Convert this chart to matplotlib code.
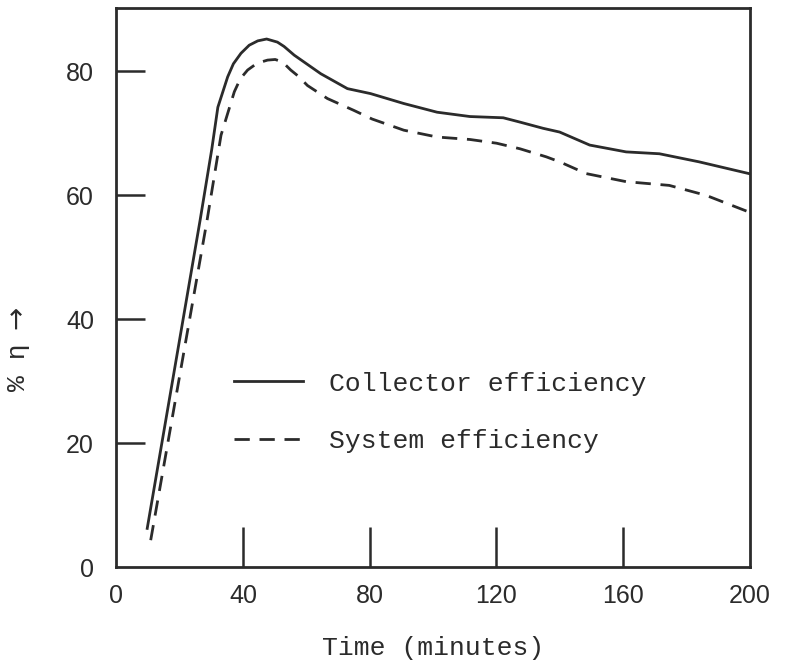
import matplotlib
matplotlib.use('Agg')
import matplotlib.pyplot as plt

# curve points (time in minutes, efficiency in %)
collector_x = [9.8, 26.5, 30.2, 32.1, 35.2, 37.0, 39.4, 42.0, 44.7, 47.5, 50.9, 53.0,
               56.2, 64.6, 73.0, 80.3, 90.8, 101.3, 111.7, 122.2, 127.5, 134.8, 140.0,
               149.5, 161.0, 171.5, 184.0, 199.8]
collector_y = [6.3, 56.0, 67.5, 74.2, 79.1, 81.2, 82.9, 84.2, 84.9, 85.2, 84.7, 84.0,
               82.6, 79.6, 77.2, 76.4, 74.8, 73.4, 72.7, 72.5, 71.8, 70.8, 70.2,
               68.1, 67.0, 66.7, 65.4, 63.5]

system_x = [10.9, 28.7, 33.1, 37.3, 39.2, 41.5, 44.5, 47.8, 50.2, 52.5, 55.1, 57.5,
            60.4, 66.7, 75.0, 80.8, 90.8, 101.3, 111.7, 120.1, 127.5, 135.8, 140.0,
            148.4, 161.0, 174.6, 186.2, 199.8]
system_y = [4.4, 56.0, 69.7, 76.7, 78.8, 80.2, 81.3, 81.8, 81.9, 81.5, 80.2, 79.2,
            77.7, 75.6, 73.7, 72.3, 70.5, 69.4, 69.0, 68.4, 67.5, 66.2, 65.4,
            63.5, 62.2, 61.6, 60.0, 57.3]

x_ticks = [40, 80, 120, 160]
x_end_labels = [0, 200]
y_ticks = [20, 40, 60, 80]
y_end_labels = [0]

ink = '#2b2b2b'
mono = ['Liberation Mono', 'DejaVu Sans']
sans = 'Liberation Sans'

fig = plt.figure(figsize=(7.85, 6.61), dpi=100)
ax = fig.add_axes([0.148, 0.1415, 0.807, 0.8464])

ax.plot(collector_x, collector_y, color=ink, lw=2.0, label='Collector efficiency')
ax.plot(system_x, system_y, color=ink, lw=2.0, linestyle=(0, (5.5, 3.5)),
        label='System efficiency')

ax.set_xlim(0, 200)
ax.set_ylim(0, 90.2)

for s in ax.spines.values():
    s.set_color(ink)
    s.set_linewidth(2.0)

# long inward ticks, end values labelled without a mark
ax.set_xticks(x_ticks)
ax.set_xticks(x_end_labels, minor=True)
ax.set_xticklabels([str(v) for v in x_end_labels], minor=True)
ax.set_yticks(y_ticks)
ax.set_yticks(y_end_labels, minor=True)
ax.set_yticklabels([str(v) for v in y_end_labels], minor=True)

ax.tick_params(axis='x', which='major', direction='in', length=28.8, width=1.8,
               color=ink, pad=12, labelsize=18, labelcolor=ink)
ax.tick_params(axis='x', which='minor', length=0, pad=12, labelsize=18, labelcolor=ink)
ax.tick_params(axis='y', which='major', direction='in', length=21, width=1.8,
               color=ink, pad=16, labelsize=18, labelcolor=ink)
ax.tick_params(axis='y', which='minor', length=0, pad=16, labelsize=18, labelcolor=ink)
for lab in ax.get_xticklabels(which='both') + ax.get_yticklabels(which='both'):
    lab.set_family(sans)

ax.set_xlabel('Time (minutes)', family=mono, fontsize=19, color=ink, labelpad=20)

# y label: "% η" and a bigger arrow, stacked bottom to top
fig.text(0.023, 0.445, '% η', rotation=90, ha='center', va='center',
         family=mono, fontsize=19, color=ink)
fig.text(0.021, 0.520, '→', rotation=90, ha='center', va='center',
         family='DejaVu Sans', fontsize=20, color=ink)

leg = ax.legend(loc='upper left', bbox_to_anchor=(0.186, 0.350), frameon=False,
                prop={'family': mono, 'size': 19}, handlelength=2.6,
                handletextpad=1.0, labelspacing=1.27, borderpad=0, borderaxespad=0)
for t in leg.get_texts():
    t.set_color(ink)

fig.savefig('out.png', dpi=100)
